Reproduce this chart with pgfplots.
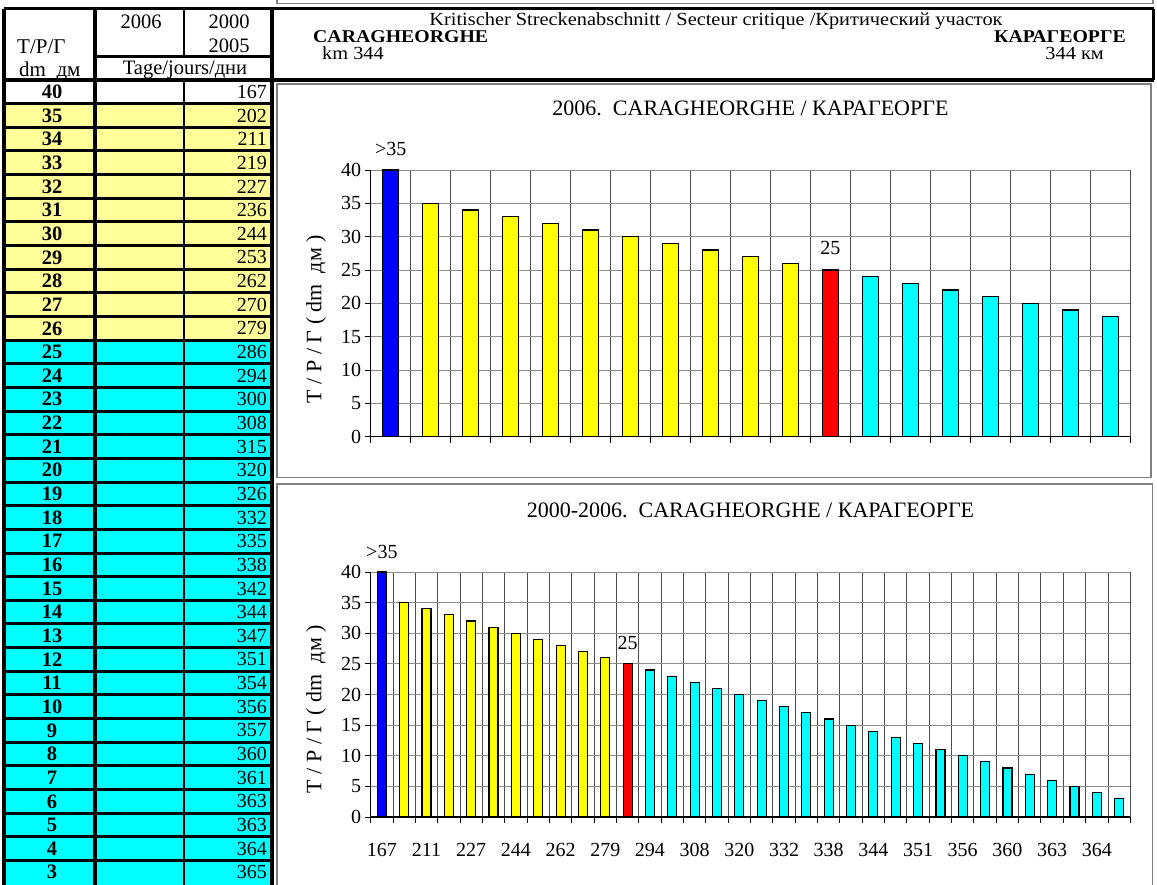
\documentclass[border=0pt]{standalone}
\usepackage{fontspec}
\setmainfont{Liberation Serif}
\usepackage{graphicx}
\usepackage{pgfplots}
\pgfplotsset{compat=1.18}
\newcommand\fs[1]{\fontsize{#1pt}{#1pt}\selectfont}
\newcommand\wide[1]{\scalebox{1.1}[1]{#1}}
\definecolor{ltyellow}{RGB}{255,255,153}
\definecolor{cyanc}{RGB}{0,255,255}
\definecolor{barblue}{RGB}{0,0,255}
\definecolor{baryellow}{RGB}{255,255,0}
\definecolor{barred}{RGB}{255,0,0}
\definecolor{framegray}{RGB}{128,128,128}
\pgfplotsset{
  chartstyle/.style={
    scale only axis, clip=false,
    ymin=0, ymax=40, ytick={0,5,...,40},
    xmajorgrids, ymajorgrids,
    x grid style={black!70, line width=0.9pt},
    y grid style={black!45, line width=0.9pt},
    axis x line*=bottom, axis y line*=left,
    axis line style={-, black, line width=1.3pt},
    every outer x axis line/.append style={-},
    every outer y axis line/.append style={-},
    tick align=outside, major tick length=6pt,
    tick style={black, line width=0.9pt},
    tick label style={font=\fs{20}},
    /pgf/number format/assume math mode=true,
    ylabel={Т / Р / Г ( dm~~дм )},
    ylabel style={font=\fs{22}, at={(axis description cs:-0.072,0.441)}, anchor=center},
  },
  barsty/.style={ybar, bar shift=0pt, draw=black, line width=1.2pt},
}
\begin{document}
\begin{tikzpicture}
\path[use as bounding box] (0,0) rectangle (1157pt,-884pt);
\begin{scope}[x=1pt,y=-1pt]
  % frame of something above
  \draw[framegray, line width=1.5pt] (277,-10) rectangle (1153,3.5);
  % chart frames
  \draw[framegray, line width=1.8pt] (277,84) rectangle (1151,477.5);
  \draw[framegray, line width=1.8pt] (277,484) rectangle (1152.5,895);
  % row fills
  \fill[ltyellow] (4,103.65) rectangle (272,340.15);
  \fill[cyanc] (4,340.15) rectangle (272,886);
  % horizontal row lines
  \foreach \k in {1,...,33} {
    \pgfmathsetmacro\yy{80+23.65*\k}
    \draw[black, line width=3pt] (4,\yy) -- (272,\yy);
  }
  % vertical table lines
  \draw[black, line width=3.5pt] (4,8.5) -- (4,886);
  \draw[black, line width=4pt] (95,8.5) -- (95,886);
  \draw[black, line width=2.5pt] (184,8.5) -- (184,56.5);
  \draw[black, line width=2.5pt] (184,80) -- (184,886);
  \draw[black, line width=4.5pt] (272,8.5) -- (272,886);
  % header box
  \draw[black, line width=3.5pt] (4,8.5) -- (1153.5,8.5);
  \draw[black, line width=3.5pt] (1153.5,8.5) -- (1153.5,80);
  \draw[black, line width=4pt] (4,80) -- (1153.5,80);
  \draw[black, line width=2.5pt] (95,56.5) -- (272,56.5);
  % header texts
  \node[font=\fs{21}, anchor=base west, inner sep=0pt] at (17,53.3) {Т/Р/Г};
  \node[font=\fs{21}, anchor=base west, inner sep=0pt] at (19,76) {dm~~дм};
  \node[font=\fs{20.5}, anchor=base, inner sep=0pt] at (141,28.3) {2006};
  \node[font=\fs{20.5}, anchor=base, inner sep=0pt] at (229,28.3) {2000};
  \node[font=\fs{20.5}, anchor=base, inner sep=0pt] at (229,52.7) {2005};
  \node[font=\fs{20.5}, anchor=base, inner sep=0pt] at (185,74) {Tage/jours/дни};
  \node[font=\fs{18.5}, anchor=base, inner sep=0pt] at (716,25) {\wide{Kritischer Streckenabschnitt / Secteur critique /Критический участок}};
  \node[font=\fs{18}\bfseries, anchor=base west, inner sep=0pt] at (313,42.5) {\wide{CARAGHEORGHE}};
  \node[font=\fs{18}\bfseries, anchor=base east, inner sep=0pt] at (1126,42.5) {\wide{КАРАГЕОРГЕ}};
  \node[font=\fs{18.5}, anchor=base west, inner sep=0pt] at (322,59.5) {\wide{km 344}};
  \node[font=\fs{18.5}, anchor=base east, inner sep=0pt] at (1104,59.5) {\wide{344 км}};
  % table rows
  \foreach \d/\v [count=\i from 0] in {40/167,35/202,34/211,33/219,32/227,31/236,30/244,29/253,28/262,27/270,26/279,25/286,24/294,23/300,22/308,21/315,20/320,19/326,18/332,17/335,16/338,15/342,14/344,13/347,12/351,11/354,10/356,9/357,8/360,7/361,6/363,5/363,4/364,3/365} {
    \pgfmathsetmacro\yc{80+23.65*(\i+0.5)}
    \node[font=\fs{20.5}\bfseries, inner sep=0pt] at (52,\yc) {\d};
    \node[font=\fs{20}, anchor=east, inner sep=0pt] at (267,\yc) {\v};
  }
\end{scope}

% ---------- Chart 1 ----------
\begin{axis}[chartstyle,
  at={(370.7pt,-436.7pt)}, anchor=south west,
  width=759.6pt, height=266.7pt,
  xmin=0, xmax=19, xtick={0,...,19}, xticklabels={},
  title={2006.~~CARAGHEORGHE / КАРАГЕОРГЕ},
  title style={font=\fs{22}, at={(axis description cs:0.5,1.1826)}, anchor=base, inner sep=0pt},
]
\addplot[barsty, bar width=16pt, fill=barblue] coordinates {(0.5,40)};
\addplot[barsty, bar width=16pt, fill=baryellow] coordinates {(1.5,35) (2.5,34) (3.5,33) (4.5,32) (5.5,31) (6.5,30) (7.5,29) (8.5,28) (9.5,27) (10.5,26)};
\addplot[barsty, bar width=16pt, fill=barred] coordinates {(11.5,25)};
\addplot[barsty, bar width=16pt, fill=cyanc] coordinates {(12.5,24) (13.5,23) (14.5,22) (15.5,21) (16.5,20) (17.5,19) (18.5,18)};
\node[font=\fs{20}, anchor=base, inner sep=0pt, yshift=14.5pt] at (axis cs:0.5,40) {>35};
\node[font=\fs{20}, anchor=base, inner sep=0pt, yshift=15.5pt] at (axis cs:11.5,25) {25};
\end{axis}

% ---------- Chart 2 ----------
\begin{axis}[chartstyle,
  at={(370.7pt,-817pt)}, anchor=south west,
  width=759.6pt, height=245pt,
  xmin=0, xmax=34, xtick={0,...,34}, xticklabels={},
  extra x ticks={0.5,2.5,...,32.5},
  extra x tick labels={167,211,227,244,262,279,294,308,320,332,338,344,351,356,360,363,364},
  extra x tick style={grid=none, major tick length=0pt},
  xticklabel style={yshift=-23pt},
  ylabel style={at={(axis description cs:-0.072,0.44)}},
  title={2000-2006.~~CARAGHEORGHE / КАРАГЕОРГЕ},
  title style={font=\fs{22}, at={(axis description cs:0.5,1.2)}, anchor=base, inner sep=0pt},
]
\addplot[barsty, bar width=9pt, fill=barblue] coordinates {(0.5,40)};
\addplot[barsty, bar width=9pt, fill=baryellow] coordinates {(1.5,35) (2.5,34) (3.5,33) (4.5,32) (5.5,31) (6.5,30) (7.5,29) (8.5,28) (9.5,27) (10.5,26)};
\addplot[barsty, bar width=9pt, fill=barred] coordinates {(11.5,25)};
\addplot[barsty, bar width=9pt, fill=cyanc] coordinates {(12.5,24) (13.5,23) (14.5,22) (15.5,21) (16.5,20) (17.5,19) (18.5,18) (19.5,17) (20.5,16) (21.5,15) (22.5,14) (23.5,13) (24.5,12) (25.5,11) (26.5,10) (27.5,9) (28.5,8) (29.5,7) (30.5,6) (31.5,5) (32.5,4) (33.5,3)};
\node[font=\fs{20}, anchor=base, inner sep=0pt, yshift=14pt] at (axis cs:0.5,40) {>35};
\node[font=\fs{20}, anchor=base, inner sep=0pt, yshift=14pt] at (axis cs:11.5,25) {25};
\end{axis}
\end{tikzpicture}
\end{document}
